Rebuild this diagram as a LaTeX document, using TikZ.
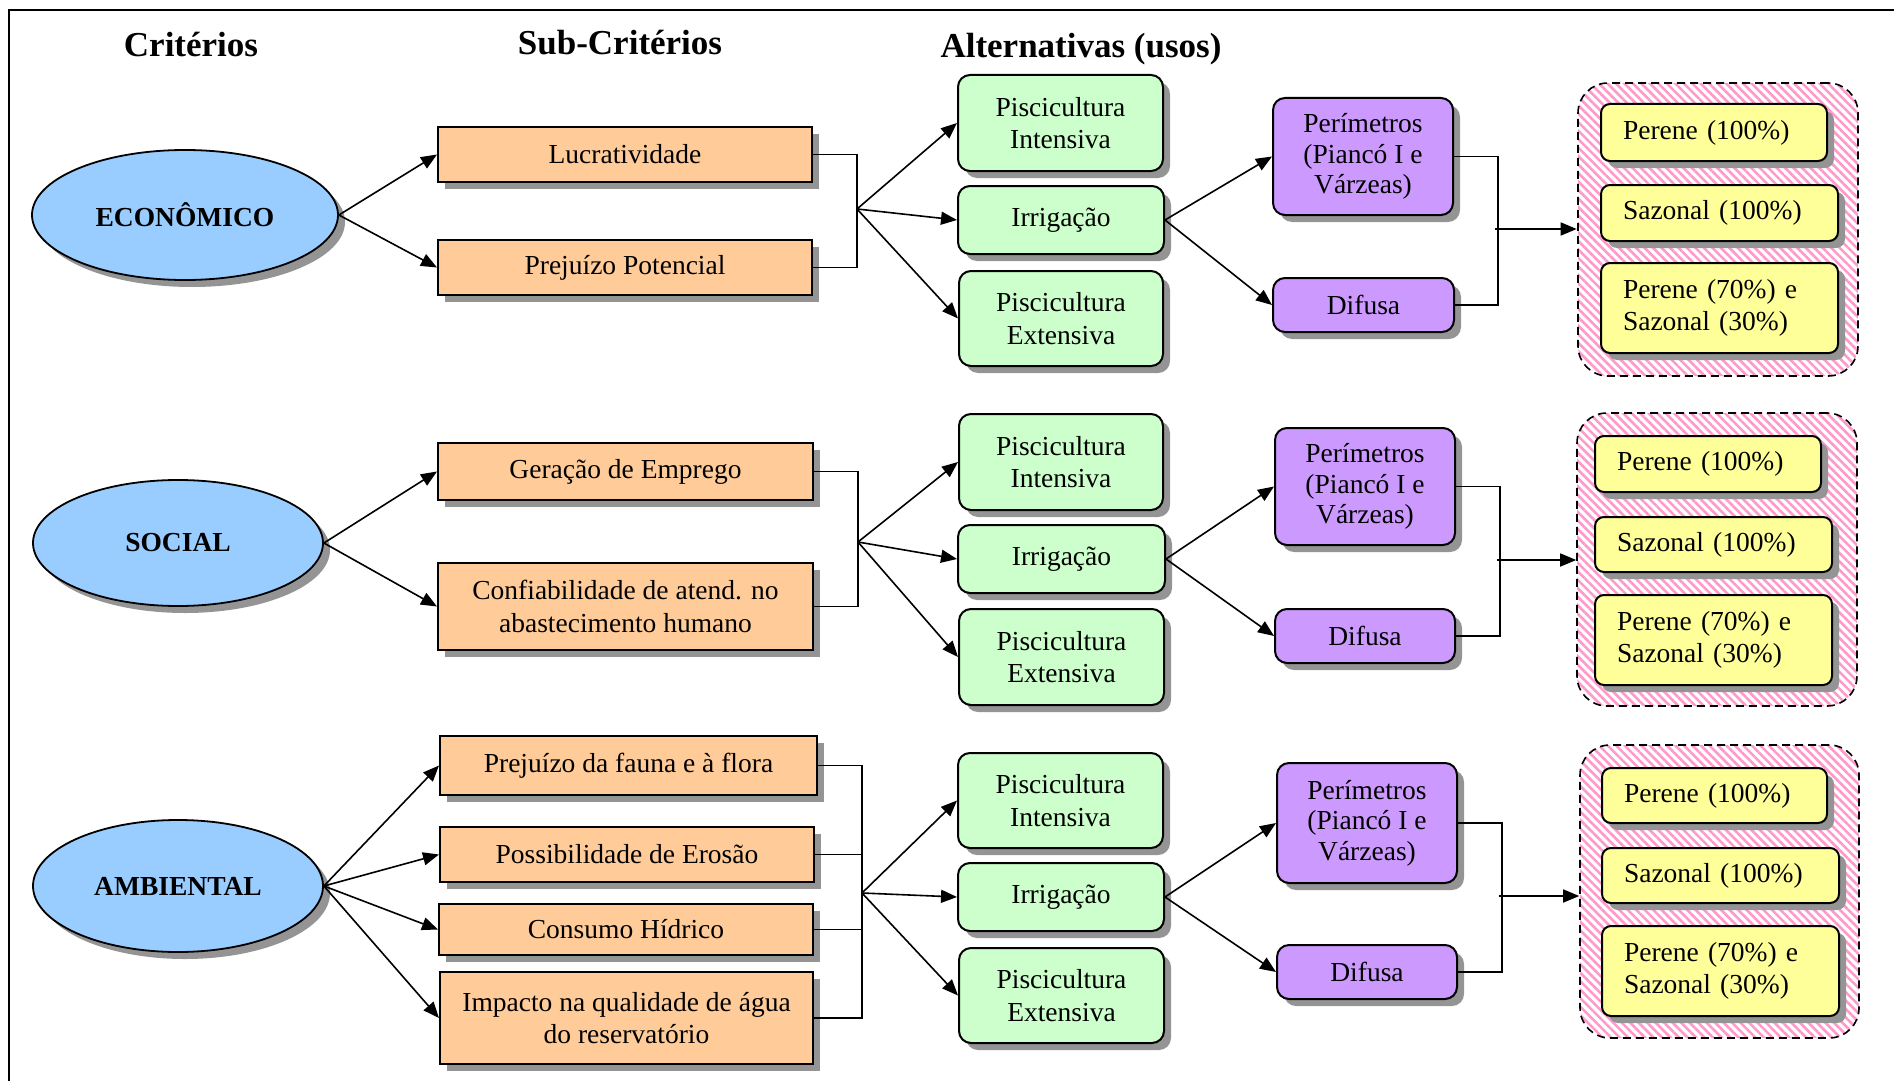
\documentclass[tikz,border=0pt]{standalone}
\usepackage{fontspec}
\setmainfont{Liberation Serif}
\usetikzlibrary{shapes.geometric,shadows,arrows.meta,patterns.meta}

\definecolor{critfill}{HTML}{99CCFF}
\definecolor{subfill}{HTML}{FFCC99}
\definecolor{altfill}{HTML}{CCFFCC}
\definecolor{perfill}{HTML}{CC99FF}
\definecolor{usofill}{HTML}{FFFF99}
\definecolor{hatchpink}{HTML}{FF99CC}

\tikzset{
  % place a node by its corner coordinates (x1,y1)-(x2,y2)
  pos/.style n args={4}{at={({(#1+#3)/2},{(#2+#4)/2})},
    minimum width={(#3-#1)*0.5pt}, minimum height={(#4-#2)*0.5pt}},
  lpos/.style n args={4}{pos={#1}{#2}{#3}{#4},
    text width={(#3-#1-44)*0.5pt}, inner xsep=11pt, align=left},
  dropsh/.style={drop shadow={shadow xshift=3.5pt,shadow yshift=-3.5pt,fill=black!42,opacity=1}},
  bodytxt/.style={font=\fontsize{13.75}{16.2}\selectfont},
  head/.style={font=\fontsize{17.5}{20}\selectfont\bfseries},
  crit/.style={ellipse, draw, line width=0.9pt, fill=critfill, dropsh, inner sep=0pt,
    font=\fontsize{13.75}{16}\selectfont\bfseries},
  subbox/.style={rectangle, draw, line width=1pt, fill=subfill, dropsh, inner sep=0pt, align=center, bodytxt},
  altbox/.style={rectangle, rounded corners=6pt, draw, line width=1pt, fill=altfill, dropsh, inner sep=0pt, align=center, bodytxt},
  perbox/.style={rectangle, rounded corners=6pt, draw, line width=1pt, fill=perfill, dropsh, inner sep=0pt, align=center,
    font=\fontsize{13.75}{15.3}\selectfont},
  usobox/.style={rectangle, rounded corners=4.5pt, draw, line width=1pt, fill=usofill, dropsh, inner ysep=0pt, bodytxt},
  group/.style={rectangle, rounded corners=15pt, draw, line width=0.8pt, dash pattern=on 4pt off 2.5pt,
    pattern={Lines[angle=-45,distance=3pt,line width=1.3pt]}, pattern color=hatchpink},
  con/.style={line width=0.8pt},
  arr/.style={line width=0.8pt, -{Triangle[length=8pt,width=6.5pt]}},
}

\begin{document}
\begin{tikzpicture}[x=0.5pt,y=-0.5pt]
\useasboundingbox (0,0) rectangle (1894,1081);

% outer frame (top and left edges)
\draw[line width=1.2pt] (9,1081) -- (9,10) -- (1894,10);

% column headings
\node[head] (h1) at (191,45) {Critérios};
\node[head] (h2) at (620,43) {Sub-Critérios};
\node[head] (h3) at (1081,49) {Alternativas (usos)};

% ---------------- ECONÔMICO ----------------
\node[crit, minimum width=153pt, minimum height=65pt] (e1) at (185,215) {ECONÔMICO};
\node[subbox, pos={438}{127}{812}{182}] (s11) {Lucratividade};
\node[subbox, pos={438}{240}{812}{295}] (s12) {Prejuízo Potencial};
\coordinate (f1) at (857,209);
\node[altbox, pos={958}{75}{1163}{171}] (a11) {Piscicultura\\Intensiva};
\node[altbox, pos={958}{186}{1164}{254}] (a12) {Irrigação};
\node[altbox, pos={959}{271}{1163}{366}] (a13) {Piscicultura\\Extensiva};
\node[perbox, pos={1273}{98}{1453}{215}] (p11) {Perímetros\\(Piancó I e\\Várzeas)};
\node[perbox, pos={1273}{278}{1454}{332}] (p12) {Difusa};
\coordinate (b1) at (1498,229);
\node[group, pos={1578}{83}{1858}{376}] (g1) {};
\node[usobox, lpos={1601}{104}{1827}{161}] (u11) {Perene (100\%)};
\node[usobox, lpos={1601}{185}{1838}{241}] (u12) {Sazonal (100\%)};
\node[usobox, lpos={1601}{263}{1838}{353}] (u13) {Perene (70\%) e\\Sazonal (30\%)};

\draw[arr] (e1.east) -- (s11.west);
\draw[arr] (e1.east) -- (s12.west);
\draw[con] (s11.east) -| (f1);
\draw[con] (s12.east) -| (f1);
\draw[arr] (f1) -- (a11.west);
\draw[arr] (f1) -- (a12.west);
\draw[arr] (f1) -- (a13.west);
\draw[arr] (a12.east) -- (p11.west);
\draw[arr] (a12.east) -- (p12.west);
\draw[con] (p11.east) -| (b1);
\draw[con] (p12.east) -| (b1);
\draw[arr] ([xshift=-1.5pt]b1) -- (b1 -| g1.west);

% ---------------- SOCIAL ----------------
\node[crit, minimum width=145pt, minimum height=63pt] (e2) at (178,543) {SOCIAL};
\node[subbox, pos={438}{443}{813}{500}] (s21) {Geração de Emprego};
\node[subbox, pos={438}{563}{813}{650}] (s22) {Confiabilidade de atend. no\\abastecimento humano};
\coordinate (f2) at (858,542);
\node[altbox, pos={959}{414}{1163}{510}] (a21) {Piscicultura\\Intensiva};
\node[altbox, pos={958}{525}{1165}{593}] (a22) {Irrigação};
\node[altbox, pos={959}{609}{1164}{705}] (a23) {Piscicultura\\Extensiva};
\node[perbox, pos={1275}{428}{1455}{545}] (p21) {Perímetros\\(Piancó I e\\Várzeas)};
\node[perbox, pos={1275}{609}{1455}{663}] (p22) {Difusa};
\coordinate (b2) at (1500,560);
\node[group, pos={1577}{413}{1857}{706}] (g2) {};
\node[usobox, lpos={1595}{436}{1821}{492}] (u21) {Perene (100\%)};
\node[usobox, lpos={1595}{517}{1832}{572}] (u22) {Sazonal (100\%)};
\node[usobox, lpos={1595}{595}{1832}{685}] (u23) {Perene (70\%) e\\Sazonal (30\%)};

\draw[arr] (e2.east) -- (s21.west);
\draw[arr] (e2.east) -- (s22.west);
\draw[con] (s21.east) -| (f2);
\draw[con] (s22.east) -| (f2);
\draw[arr] (f2) -- (a21.west);
\draw[arr] (f2) -- (a22.west);
\draw[arr] (f2) -- (a23.west);
\draw[arr] (a22.east) -- (p21.west);
\draw[arr] (a22.east) -- (p22.west);
\draw[con] (p21.east) -| (b2);
\draw[con] (p22.east) -| (b2);
\draw[arr] ([xshift=-1.5pt]b2) -- (b2 -| g2.west);

% ---------------- AMBIENTAL ----------------
\node[crit, minimum width=145pt, minimum height=66pt] (e3) at (178,886) {AMBIENTAL};
\node[subbox, pos={440}{736}{817}{795}] (s31) {Prejuízo da fauna e à flora};
\node[subbox, pos={440}{827}{814}{882}] (s32) {Possibilidade de Erosão};
\node[subbox, pos={439}{904}{813}{955}] (s33) {Consumo Hídrico};
\node[subbox, pos={440}{972}{813}{1064}] (s34) {Impacto na qualidade de água\\do reservatório};
\coordinate (f3) at (862,893);
\node[altbox, pos={958}{753}{1163}{848}] (a31) {Piscicultura\\Intensiva};
\node[altbox, pos={958}{863}{1164}{931}] (a32) {Irrigação};
\node[altbox, pos={959}{948}{1164}{1043}] (a33) {Piscicultura\\Extensiva};
\node[perbox, pos={1277}{763}{1457}{883}] (p31) {Perímetros\\(Piancó I e\\Várzeas)};
\node[perbox, pos={1277}{945}{1457}{999}] (p32) {Difusa};
\coordinate (b3) at (1502,896);
\node[group, pos={1580}{745}{1859}{1038}] (g3) {};
\node[usobox, lpos={1602}{768}{1827}{823}] (u31) {Perene (100\%)};
\node[usobox, lpos={1602}{848}{1839}{903}] (u32) {Sazonal (100\%)};
\node[usobox, lpos={1602}{926}{1839}{1016}] (u33) {Perene (70\%) e\\Sazonal (30\%)};

\draw[arr] (e3.east) -- (s31.west);
\draw[arr] (e3.east) -- (s32.west);
\draw[arr] (e3.east) -- (s33.west);
\draw[arr] (e3.east) -- (s34.west);
\draw[con] (s31.east) -| (f3);
\draw[con] (s32.east) -| (f3);
\draw[con] (s33.east) -| (f3);
\draw[con] (s34.east) -| (f3);
\draw[arr] (f3) -- (a31.west);
\draw[arr] (f3) -- (a32.west);
\draw[arr] (f3) -- (a33.west);
\draw[arr] (a32.east) -- (p31.west);
\draw[arr] (a32.east) -- (p32.west);
\draw[con] (p31.east) -| (b3);
\draw[con] (p32.east) -| (b3);
\draw[arr] ([xshift=-1.5pt]b3) -- (b3 -| g3.west);
\end{tikzpicture}
\end{document}
